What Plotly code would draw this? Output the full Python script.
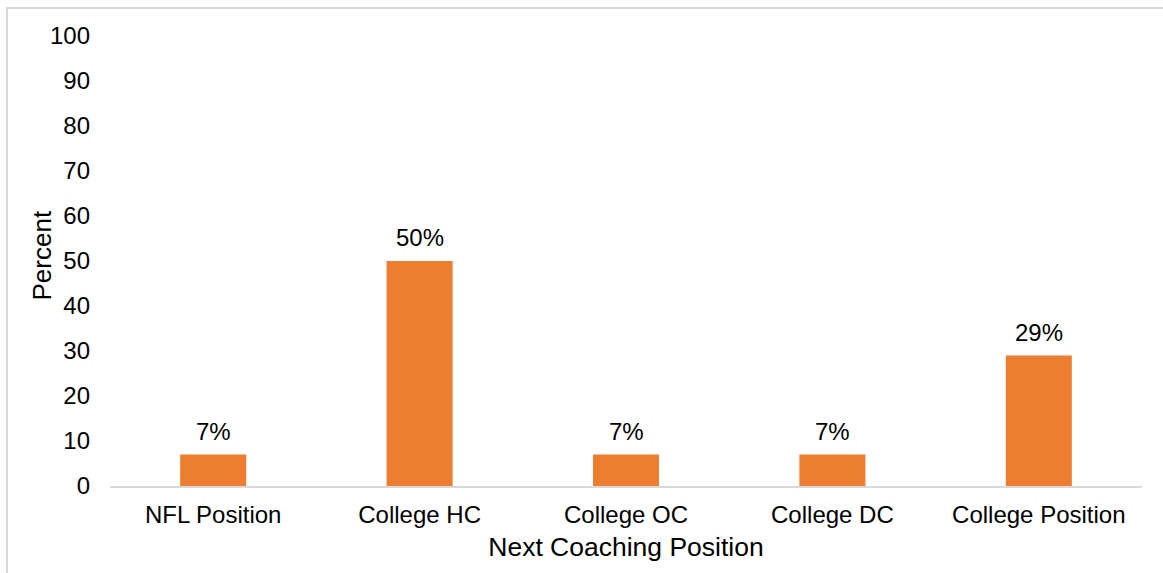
import plotly.graph_objects as go

categories = ["NFL Position", "College HC", "College OC", "College DC", "College Position"]
percent_values = [7, 50, 7, 7, 29]
label_texts = ["7%", "50%", "7%", "7%", "29%"]
y_tick_values = [0, 10, 20, 30, 40, 50, 60, 70, 80, 90, 100]

W, H = 1163, 573
ml, mr, mt, mb = 110, 21, 36, 87
pw, ph = W - ml - mr, H - mt - mb
FONT = "Liberation Sans, Arial"

fig = go.Figure(go.Bar(
    x=categories, y=percent_values,
    marker=dict(color="#ED7D31", line=dict(width=0)),
    width=0.32,
))

annotations = [
    dict(x=c, y=v, text=t, xref="x", yref="y", showarrow=False,
         yanchor="bottom", yshift=8,
         font=dict(family=FONT, size=24, color="#000000"))
    for c, v, t in zip(categories, percent_values, label_texts)
]
annotations.append(dict(
    text="Percent", xref="paper", yref="paper",
    x=(41.5 - ml) / pw, y=((H - mb) - 256) / ph,
    xanchor="center", yanchor="middle", textangle=-90, showarrow=False,
    font=dict(family=FONT, size=26, color="#000000"),
))

fig.update_layout(
    width=W, height=H,
    margin=dict(l=ml, r=mr, t=mt, b=mb, pad=0),
    plot_bgcolor="white", paper_bgcolor="white",
    font=dict(family=FONT, size=24, color="#000000"),
    showlegend=False,
    annotations=annotations,
    xaxis=dict(
        showline=True, linecolor="#d9d9d9", linewidth=2,
        ticks="", showgrid=False, ticklabelstandoff=6,
        tickfont=dict(size=24),
        title=dict(text="Next Coaching Position", font=dict(size=26.5), standoff=11),
    ),
    yaxis=dict(
        range=[0, 100], tickvals=y_tick_values, showline=False, showgrid=False,
        zeroline=False, ticks="", ticklabelstandoff=19,
        tickfont=dict(size=24),
    ),
    shapes=[dict(
        type="rect", xref="paper", yref="paper",
        x0=(7 - ml) / pw, x1=(W + 20 - ml) / pw,
        y0=-(H + 20 - (H - mb)) / ph, y1=((H - mb) - 8) / ph,
        line=dict(color="#d9d9d9", width=2), fillcolor="rgba(0,0,0,0)", layer="below",
    )],
)

fig.write_html("out.html")
